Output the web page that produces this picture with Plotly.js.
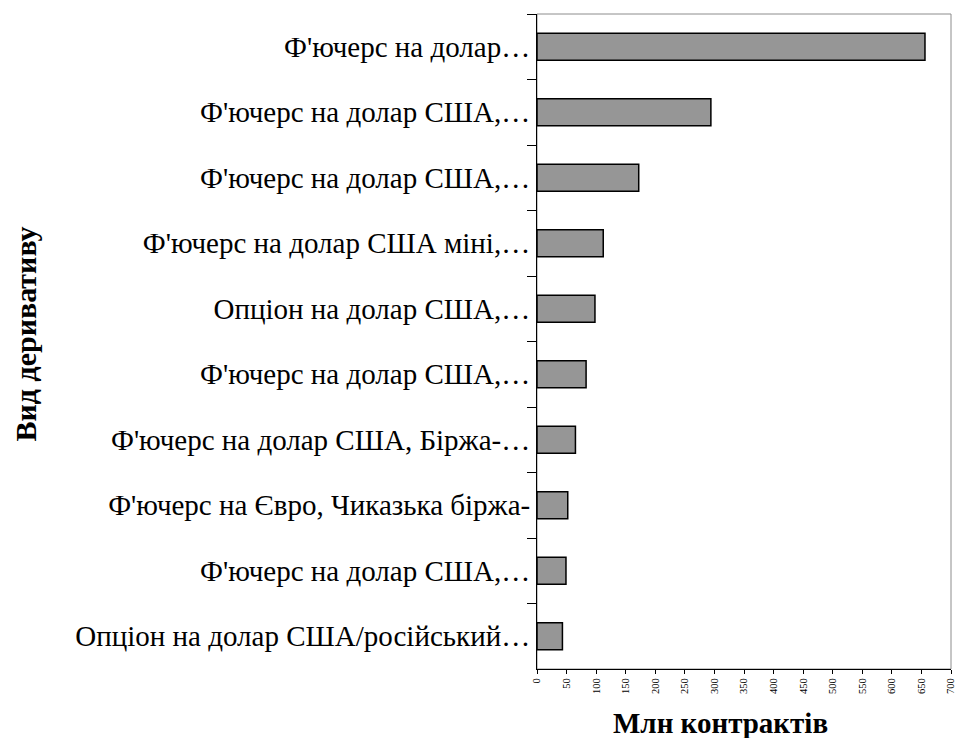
<!DOCTYPE html>
<html>
<head>
<meta charset="utf-8">
<script src="https://cdn.plot.ly/plotly-3.0.1.min.js"></script>
<style>html,body{margin:0;padding:0;background:#fff;}#chart{width:955px;height:738px;}</style>
</head>
<body>
<div id="chart"></div>
<script>
const categories = [
  "Ф'ючерс на долар…",
  "Ф'ючерс на долар США,…",
  "Ф'ючерс на долар США,…",
  "Ф'ючерс на долар США міні,…",
  "Опціон на долар США,…",
  "Ф'ючерс на долар США,…",
  "Ф'ючерс на долар США, Біржа-…",
  "Ф'ючерс на Євро, Чиказька біржа-",
  "Ф'ючерс на долар США,…",
  "Опціон на долар США/російський…"
];
const values = [656, 294, 172, 112, 98, 83, 65, 52, 49, 43];
const xTickValues = [0, 50, 100, 150, 200, 250, 300, 350, 400, 450, 500, 550, 600, 650, 700];
const xTitle = "Млн контрактів";
const yTitle = "Вид деривативу";

const serif = "Liberation Serif";

// make repeated labels distinct for the category axis with zero-width spaces
const seen = {};
const catKeys = categories.map(c => {
  seen[c] = (seen[c] || 0) + 1;
  return c + "\u200B".repeat(seen[c] - 1);
});

const trace = {
  type: "bar",
  orientation: "h",
  y: catKeys,
  x: values,
  marker: {color: "#969696", line: {color: "#000000", width: 1.5}},
  hoverinfo: "x+y"
};

const layout = {
  width: 955,
  height: 738,
  margin: {l: 537, r: 4, t: 14, b: 69, pad: 0},
  paper_bgcolor: "#ffffff",
  plot_bgcolor: "#ffffff",
  showlegend: false,
  bargap: 0.59,
  font: {family: serif, color: "#000000"},
  xaxis: {
    range: [0, 700],
    tickvals: xTickValues,
    ticktext: xTickValues.map(String),
    tickangle: -90,
    ticklabeloverflow: "allow",
    tickfont: {family: serif, size: 10.5, color: "#000"},
    ticks: "outside",
    ticklen: 4,
    tickcolor: "#000",
    showline: true,
    linecolor: "#000",
    linewidth: 1,
    showgrid: false,
    zeroline: false,
    fixedrange: true
  },
  yaxis: {
    type: "category",
    autorange: "reversed",
    tickson: "boundaries",
    ticks: "outside",
    ticklen: 9,
    tickcolor: "#000",
    tickfont: {family: serif, size: 29, color: "#000"},
    showline: true,
    linecolor: "#000",
    linewidth: 1,
    showgrid: false,
    zeroline: false,
    automargin: false,
    fixedrange: true
  },
  shapes: [{
    type: "rect", xref: "paper", yref: "paper", x0: 0, x1: 1, y0: 0, y1: 1,
    line: {color: "#8c8c8c", width: 1}, layer: "below"
  }],
  annotations: [{
    text: "<b>" + xTitle + "</b>",
    xref: "paper", yref: "paper",
    x: (720 - 537) / (951 - 537), y: -(723 - 669) / (669 - 14),
    xanchor: "center", yanchor: "middle",
    showarrow: false,
    font: {family: serif, size: 29, color: "#000"}
  }, {
    text: "<b>" + yTitle + "</b>",
    xref: "paper", yref: "paper",
    x: -(537 - 25) / (951 - 537), y: 0.5 + (341 - 334) / (669 - 14),
    xanchor: "center", yanchor: "middle",
    textangle: -90,
    showarrow: false,
    font: {family: serif, size: 30, color: "#000"}
  }]
};

Plotly.newPlot("chart", [trace], layout, {displayModeBar: false, staticPlot: true});
</script>
</body>
</html>
